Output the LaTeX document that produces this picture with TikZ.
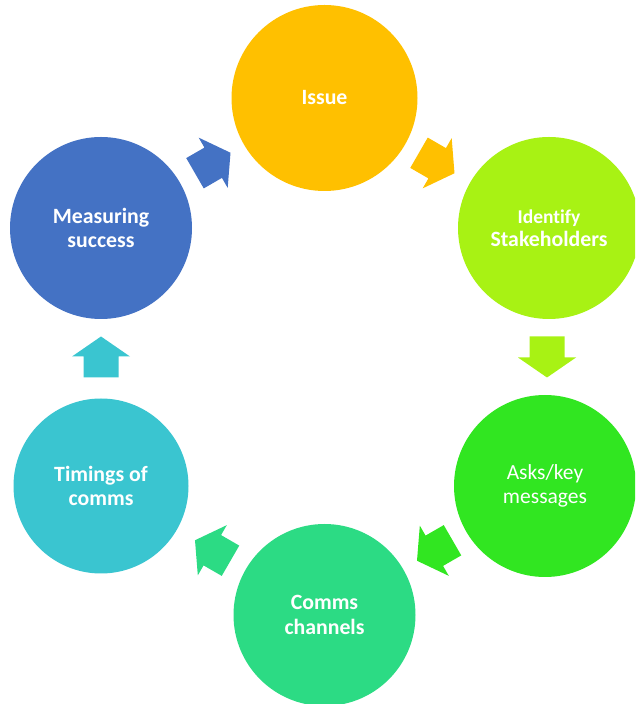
\documentclass[tikz,border=0pt]{standalone}
\usepackage{fontspec}
\setmainfont[Ligatures=NoCommon]{Carlito}
\usetikzlibrary{calc}
\definecolor{cIssue}{HTML}{FFC000}
\definecolor{cIdent}{HTML}{A8F214}
\definecolor{cAsks}{HTML}{31E621}
\definecolor{cComms}{HTML}{2CDB84}
\definecolor{cTime}{HTML}{3AC5D0}
\definecolor{cMeas}{HTML}{4472C4}
\newcommand\blockarrow[4]{%
  \fill[#4, shift={($(#1)!0.5!(#2)$)}, rotate=#3]
    (-20.5,-17.5) -- (0.5,-17.5) -- (0.5,-29) -- (20.5,0) -- (0.5,29) -- (0.5,17.5) -- (-20.5,17.5) -- cycle;}
\begin{document}
\begin{tikzpicture}[x=1pt,y=1pt,
  circ/.style={circle, inner sep=0pt, draw=none, text=white, align=center,
    font=\bfseries\fontsize{21.8}{24.5}\selectfont}]
\useasboundingbox (0,0) rectangle (635,704);
\clip (0,0) rectangle (635,704);
\node[circ, fill=cIssue, minimum size=186pt] (issue) at (324.5,606) {Issue};
\node[circ, fill=cIdent, minimum size=182pt] (ident) at (549,476)
  {{\fontsize{19.5}{22}\selectfont Identify}\\[-1.5pt]Stakeholders};
\node[circ, fill=cAsks, minimum size=182pt, font=\mdseries\fontsize{21.5}{24.5}\selectfont] (asks) at (545,218)
  {Asks/key\\messages};
\node[circ, fill=cComms, minimum size=182pt] (comms) at (324.5,89) {Comms\\channels};
\node[circ, fill=cTime, minimum size=175pt] (time) at (101,218) {Timings of\\comms};
\node[circ, fill=cMeas, minimum size=182pt] (meas) at (101,476) {Measuring\\success};
\blockarrow{meas}{issue}{30}{cMeas}
\blockarrow{issue}{ident}{-30}{cIssue}
\blockarrow{ident}{asks}{-90}{cIdent}
\blockarrow{asks}{comms}{210}{cAsks}
\blockarrow{comms}{time}{150}{cComms}
\blockarrow{time}{meas}{90}{cTime}
\end{tikzpicture}
\end{document}
